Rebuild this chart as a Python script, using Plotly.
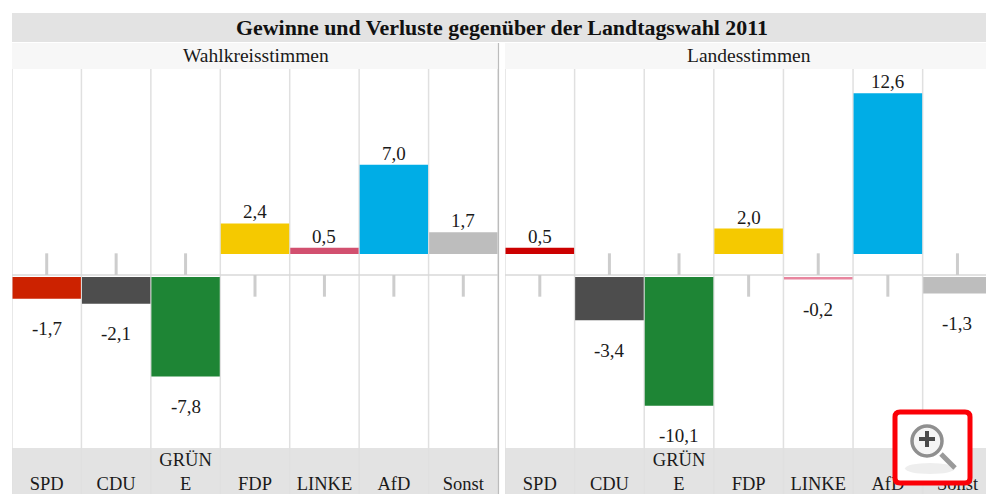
import plotly.graph_objects as go

W, H = 986, 494
FIG_H = 500              # canvas runs past the window so the bottom band bleeds off the edge

parties = ["SPD", "CDU", "GRÜNE", "FDP", "LINKE", "AfD", "Sonst"]
party_ticks = ["<br>SPD", "<br>CDU", "GRÜN<br>E", "<br>FDP", "<br>LINKE", "<br>AfD", "<br>Sonst"]
wahlkreis = [-1.7, -2.1, -7.8, 2.4, 0.5, 7.0, 1.7]
landes = [0.5, -3.4, -10.1, 2.0, -0.2, 12.6, -1.3]
colors_left = ["#cc2200", "#4d4d4d", "#1e8535", "#f5c900", "#d2506f", "#00ade6", "#bdbdbd"]
colors_right = ["#cc0000", "#4d4d4d", "#1e8535", "#f5c900", "#e8869f", "#00ade6", "#bdbdbd"]
title = "Gewinne und Verluste gegenüber der Landtagswahl 2011"
subtitles = ["Wahlkreisstimmen", "Landesstimmen"]

FONT = "Liberation Serif"
TEXT = "#1a1a1a"
SCALE = 12.75            # px per percentage point
ZERO = 275
TOP, BOTTOM = 69, 448
POS_BASE = 21 / SCALE    # positive bars float above the axis
NEG_BASE = -2 / SCALE
STUB = 1.7

def px(x):
    return x / W

def py(y):
    return 1 - y / FIG_H

def fmt(v):
    return f"{v:.1f}".replace(".", ",")

fig = go.Figure()
shapes = []
annotations = []

def band(x0, y0, x1, y1, fill):
    shapes.append(dict(type="rect", xref="paper", yref="paper", x0=px(x0), x1=px(x1),
                       y0=py(y1), y1=py(y0), fillcolor=fill, line_width=0, layer="below"))

band(12, 13, W, 42, "#e3e3e3")
band(12, 43, 498, 69, "#f7f7f7")
band(505, 43, W, 69, "#f7f7f7")
band(12, BOTTOM, 498, FIG_H, "#e3e3e3")
band(505, BOTTOM, W, FIG_H, "#e3e3e3")

panels = [
    (wahlkreis, colors_left, "x", "y", "", 12, 498, 6.5),
    (landes, colors_right, "x2", "y2", "2", 505, W, 6.41),
]

for values, colors, xa, ya, suffix, left, right, xmax in panels:
    bases = [POS_BASE if v > 0 else NEG_BASE for v in values]
    fig.add_trace(go.Bar(x=parties, y=values, base=bases, marker=dict(color=colors, line_width=0),
                         width=0.985, xaxis=xa, yaxis=ya, showlegend=False, hoverinfo="skip"))
    fig.add_trace(go.Scatter(
        x=parties, y=[0] * len(values), mode="markers", marker=dict(size=1, opacity=0),
        error_y=dict(type="data", symmetric=False,
                     array=[STUB if v < 0 else 0 for v in values],
                     arrayminus=[STUB if v > 0 else 0 for v in values],
                     thickness=3, width=0, color="#cdcdcd"),
        xaxis=xa, yaxis=ya, showlegend=False, hoverinfo="skip"))
    for i, v in enumerate(values):
        annotations.append(dict(
            x=i, y=v + bases[i], xref=xa, yref=ya, text=fmt(v), showarrow=False,
            yanchor="middle", xanchor="center", yshift=11.5 if v > 0 else -30,
            font=dict(family=FONT, size=19, color=TEXT)))
    for i in range(len(values) + 1):
        if i - 0.5 > xmax:
            continue
        shapes.append(dict(type="line", xref=xa, yref="paper", x0=i - 0.5, x1=i - 0.5,
                           y0=0, y1=py(TOP), line=dict(color="#e0e0e0", width=1.5), layer="below"))
    shapes.append(dict(type="line", xref="paper", yref=ya, x0=px(left), x1=px(right),
                       y0=0, y1=0, line=dict(color="#d8d8d8", width=1.5), layer="below"))
    fig.update_layout({
        f"xaxis{suffix}": dict(domain=[px(left), px(right)], type="category", range=[-0.5, xmax],
                               tickmode="array", tickvals=parties, ticktext=party_ticks,
                               showgrid=False, zeroline=False, showline=False, ticks="", fixedrange=True,
                               ticklabelstandoff=-2,
                               tickfont=dict(family=FONT, size=18.5, color=TEXT), anchor=ya),
        f"yaxis{suffix}": dict(domain=[py(BOTTOM), py(TOP)],
                               range=[-(BOTTOM - ZERO) / SCALE, (ZERO - TOP) / SCALE],
                               visible=False, fixedrange=True, anchor=xa),
    })

# divider between the two panels
shapes.append(dict(type="line", xref="paper", yref="paper", x0=px(498.5), x1=px(498.5),
                   y0=0, y1=py(43), line=dict(color="#bcbcbc", width=1.2), layer="below"))

annotations.append(dict(x=px(502), y=py(27.5), xref="paper", yref="paper", text=f"<b>{title}</b>",
                        yanchor="middle", xanchor="center",
                        showarrow=False, font=dict(family=FONT, size=21.9, color="#111111")))
annotations.append(dict(x=px(256), y=py(56), xref="paper", yref="paper", text=subtitles[0],
                        yanchor="middle", xanchor="center",
                        showarrow=False, font=dict(family=FONT, size=19.5, color=TEXT)))
annotations.append(dict(x=px(749), y=py(56), xref="paper", yref="paper", text=subtitles[1],
                        yanchor="middle", xanchor="center",
                        showarrow=False, font=dict(family=FONT, size=19.5, color=TEXT)))

# zoom badge overlay
def rounded(x0, y0, x1, y1, r):
    X = lambda a: px(a)
    Y = lambda a: py(a)
    return (f"M {X(x0 + r)} {Y(y0)} L {X(x1 - r)} {Y(y0)} Q {X(x1)} {Y(y0)} {X(x1)} {Y(y0 + r)} "
            f"L {X(x1)} {Y(y1 - r)} Q {X(x1)} {Y(y1)} {X(x1 - r)} {Y(y1)} "
            f"L {X(x0 + r)} {Y(y1)} Q {X(x0)} {Y(y1)} {X(x0)} {Y(y1 - r)} "
            f"L {X(x0)} {Y(y0 + r)} Q {X(x0)} {Y(y0)} {X(x0 + r)} {Y(y0)} Z")

shapes.append(dict(type="path", xref="paper", yref="paper", path=rounded(895, 412, 970, 483, 5),
                   fillcolor="white", line=dict(color="#fb0007", width=5), layer="above"))
shapes.append(dict(type="circle", xref="paper", yref="paper", x0=px(905), x1=px(955), y0=py(474), y1=py(463),
                   fillcolor="#eeeeee", line_width=0, layer="above"))
shapes.append(dict(type="line", xref="paper", yref="paper", x0=px(941), x1=px(955), y0=py(454), y1=py(468),
                   line=dict(color="#9a9a9a", width=5), layer="above"))
shapes.append(dict(type="circle", xref="paper", yref="paper", x0=px(912), x1=px(942), y0=py(456), y1=py(426),
                   fillcolor="#f5f5f5", line=dict(color="#8f8f8f", width=3.5), layer="above"))
shapes.append(dict(type="line", xref="paper", yref="paper", x0=px(919), x1=px(935), y0=py(439), y1=py(439),
                   line=dict(color="#4a4a4a", width=4), layer="above"))
shapes.append(dict(type="line", xref="paper", yref="paper", x0=px(927), x1=px(927), y0=py(431), y1=py(447),
                   line=dict(color="#4a4a4a", width=4), layer="above"))

fig.update_layout(width=W, height=FIG_H, autosize=False, margin=dict(l=0, r=0, t=0, b=0, pad=0),
                  paper_bgcolor="white", plot_bgcolor="rgba(0,0,0,0)", barmode="overlay",
                  shapes=shapes, annotations=annotations, hovermode=False)

fig.write_html("out.html", config={"displayModeBar": False},
               post_script="document.body.style.margin='0';document.body.style.overflow='hidden';")
